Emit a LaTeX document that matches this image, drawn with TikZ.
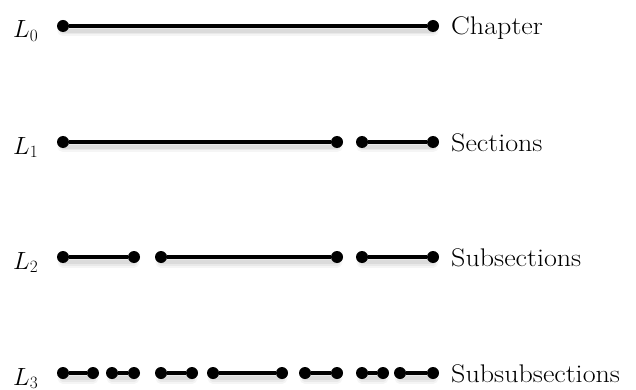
\documentclass[tikz,border=0pt]{standalone}
\begin{document}
\begin{tikzpicture}[x=1pt,y=-1pt,
  dot/.style={circle,fill=black,inner sep=0pt,minimum size=12pt},
  segline/.style={line width=4.2pt,black},
  shadeA/.style={line width=11pt,black,opacity=0.04,line cap=round},
  shadeB/.style={line width=7pt,black,opacity=0.05,line cap=round},
  shadeC/.style={line width=3.5pt,black,opacity=0.06,line cap=round},
  lvl/.style={anchor=base west,inner sep=0pt,font=\fontsize{27}{30}\selectfont},
  lab/.style={anchor=base west,inner sep=0pt,font=\fontsize{25.5}{30}\selectfont,xscale=1.1,transform shape}]
\useasboundingbox (0,0) rectangle (636,390);
\foreach \r/\y/\segs in {0/26/{63/433},1/142/{63/337,362/433},2/257/{63/134,161/337,362/433},3/373/{63/93,112/134,161/192,213/282,305/337,362/383,400/433}}{
  \foreach \a/\b [count=\i] in \segs {
    \draw[shadeA] (\a,\y+5) -- (\b,\y+5);
    \draw[shadeB] (\a,\y+5) -- (\b,\y+5);
    \draw[shadeC] (\a,\y+5) -- (\b,\y+5);
    \node[dot] (r\r s\i a) at (\a,\y) {};
    \node[dot] (r\r s\i b) at (\b,\y) {};
    \draw[segline] (r\r s\i a) -- (r\r s\i b);
  }
}
\node[lvl] (l0) at (13,38) {$L_0$};
\node[lvl] (l1) at (13,154) {$L_1$};
\node[lvl] (l2) at (13,269) {$L_2$};
\node[lvl] (l3) at (13,385) {$L_3$};
\node[lab] (t0) at (451,35) {Chapter};
\node[lab] (t1) at (451,151) {Sections};
\node[lab] (t2) at (451,266) {Subsections};
\node[lab] (t3) at (451,382) {Subsubsections};
\end{tikzpicture}
\end{document}
